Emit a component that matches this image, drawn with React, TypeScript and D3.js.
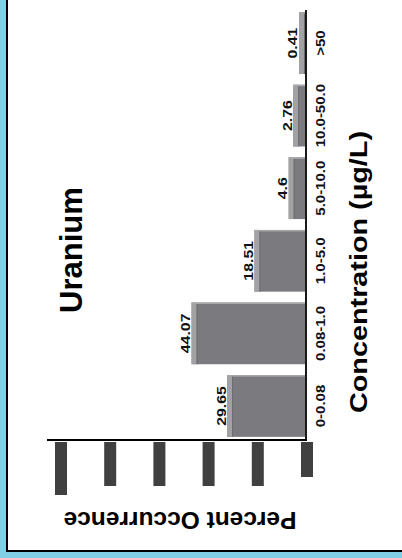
import React from "react";
import * as d3 from "d3";

const categories = ["0-0.08", "0.08-1.0", "1.0-5.0", "5.0-10.0", "10.0-50.0", ">50"];
const percents = [29.65, 44.07, 18.51, 4.6, 2.76, 0.41];
const valueLabels = ["29.65", "44.07", "18.51", "4.6", "2.76", "0.41"];
const tickValues = [0, 20, 40, 60, 80, 100];
const title = "Uranium";
const xTitle = "Concentration (µg/L)";
const yTitle = "Percent Occurrence";

const W = 402;
const H = 558;
const FONT = "'Liberation Sans', Arial, Helvetica, sans-serif";

export default function App() {
  const axisX = 306;
  const axisY = 440;
  const band = d3
    .scaleBand<string>()
    .domain(categories)
    .range([439, 10])
    .paddingInner(0.15)
    .paddingOuter(0.03);
  const val = d3.scaleLinear().domain([0, 100]).range([307, 61]);
  const depth = 7;

  return (
    <div style={{ position: "absolute", left: 0, top: 0 }}>
      <svg width={W} height={H} style={{ display: "block" }} fontFamily={FONT}>
        <rect x={0} y={0} width={W} height={H} fill="#80cfe4" />
        <rect x={7} y={-10} width={W + 10} height={561} fill="#ffffff" stroke="#000" strokeWidth={2} />

        {/* bars */}
        {categories.map((c, i) => {
          const y0 = band(c) as number;
          const bw = band.bandwidth();
          const left = val(percents[i]) - depth;
          const right = axisX - 1;
          return (
            <g key={c}>
              <rect x={left} y={y0} width={right - left} height={bw} fill="#7b7b7f" />
              <rect x={left} y={y0} width={5} height={bw} fill="#a2a2a4" />
              <rect x={left} y={y0} width={right - left} height={1.5} fill="#a9a9ab" />
              <rect x={left + 5} y={y0 + 1.5} width={1} height={bw - 1.5} fill="#6c6c70" />
            </g>
          );
        })}

        {/* value labels */}
        {categories.map((c, i) => {
          const cy = (band(c) as number) + band.bandwidth() / 2;
          const bx = val(percents[i]) - depth - 1.5;
          return (
            <text
              key={"v" + c}
              transform={`translate(${bx},${cy}) rotate(-90) scale(1.22,1)`}
              textAnchor="middle"
              fontSize={13}
              fontWeight="bold"
              fill="#111"
            >
              {valueLabels[i]}
            </text>
          );
        })}

        {/* category labels */}
        {categories.map((c) => {
          const cy = (band(c) as number) + band.bandwidth() / 2;
          return (
            <text
              key={"c" + c}
              transform={`translate(325,${cy}) rotate(-90) scale(1.2,1)`}
              textAnchor="middle"
              fontSize={12.5}
              fontWeight="bold"
              fill="#111"
            >
              {c}
            </text>
          );
        })}

        {/* axes */}
        <line x1={axisX} x2={axisX} y1={10} y2={axisY + 1} stroke="#000" strokeWidth={1.8} />
        <line x1={47} x2={axisX + 1} y1={axisY} y2={axisY} stroke="#000" strokeWidth={1.8} />

        {/* value-axis tick labels (rendered as solid blocks in the reference) */}
        {tickValues.map((t) => {
          const s = String(t);
          const len = 26 + 9 * s.length;
          return (
            <rect key={"t" + t} x={val(t) - 6} y={axisY + 2} width={12} height={len} fill="#404040">
              <title>{s}</title>
            </rect>
          );
        })}

        {/* titles */}
        <text
          transform={`translate(82,250) rotate(-90)`}
          textAnchor="middle"
          fontSize={31}
          fontWeight="bold"
          fill="#000"
        >
          {title}
        </text>
        <text
          transform={`translate(367,272) rotate(-90) scale(1.2,1)`}
          textAnchor="middle"
          fontSize={24}
          fontWeight="bold"
          fill="#000"
        >
          {xTitle}
        </text>
        <text
          transform={`translate(180,512) rotate(180)`}
          textAnchor="middle"
          fontSize={24.5}
          fontWeight="bold"
          fill="#000"
        >
          {yTitle}
        </text>
      </svg>
    </div>
  );
}
